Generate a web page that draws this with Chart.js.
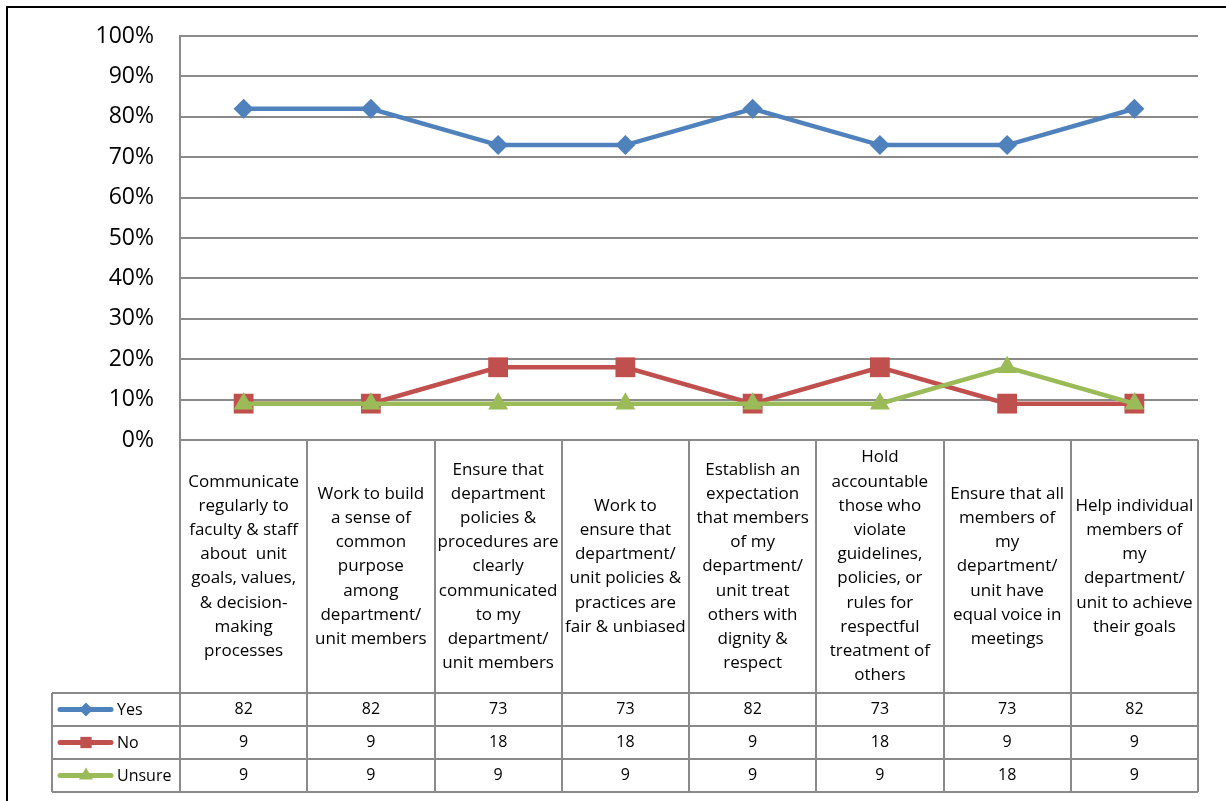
<!DOCTYPE html>
<html>
<head>
<meta charset="utf-8">
<script src="https://cdn.jsdelivr.net/npm/chart.js@4.4.0/dist/chart.umd.min.js"></script>
<style>
  html, body { margin: 0; padding: 0; background: #fff; }
  #chart { display: block; }
</style>
</head>
<body>
<canvas id="chart" width="1226" height="801"></canvas>
<script>
// ── data ─────────────────────────────────────────────────────────────
const categories = [
  ['Communicate', 'regularly to', 'faculty & staff', 'about  unit', 'goals, values,', '& decision-', 'making', 'processes'],
  ['Work to build', 'a sense of', 'common', 'purpose', 'among', 'department/', 'unit members'],
  ['Ensure that', 'department', 'policies &', 'procedures are', 'clearly', 'communicated', 'to my', 'department/', 'unit members'],
  ['Work to', 'ensure that', 'department/', 'unit policies &', 'practices are', 'fair & unbiased'],
  ['Establish an', 'expectation', 'that members', 'of my', 'department/', 'unit treat', 'others with', 'dignity &', 'respect'],
  ['Hold', 'accountable', 'those who', 'violate', 'guidelines,', 'policies, or', 'rules for', 'respectful', 'treatment of', 'others'],
  ['Ensure that all', 'members of', 'my', 'department/', 'unit have', 'equal voice in', 'meetings'],
  ['Help individual', 'members of', 'my', 'department/', 'unit to achieve', 'their goals'],
];
const seriesNames  = ['Yes', 'No', 'Unsure'];
const yesValues    = [82, 82, 73, 73, 82, 73, 73, 82];
const noValues     = [9, 9, 18, 18, 9, 18, 9, 9];
const unsureValues = [9, 9, 9, 9, 9, 9, 18, 9];
const percentTicks = [0, 10, 20, 30, 40, 50, 60, 70, 80, 90, 100];

// ── styles ───────────────────────────────────────────────────────────
const BLUE  = '#4F81BD';
const RED   = '#C0504D';
const GREEN = '#9BBB59';
const GRID  = '#8a8a8a';
const FONT  = "'Open Sans', sans-serif";

const PLOT_TOP    = 36;
const LABEL_ROW_H = 253;   // height of the category text row under the plot
const VALUE_ROW_H = 33;    // height of each series row in the table
const TABLE_LEFT  = 52;
const LINE_H      = 24.2;

const markers = [
  { pointStyle: 'rectRot',  radius: 10,   keyRadius: 7 },
  { pointStyle: 'rect',     radius: 14,   keyRadius: 8 },
  { pointStyle: 'triangle', radius: 11.5, keyRadius: 8 },
];
const colors = [BLUE, RED, GREEN];
const values = [yesValues, noValues, unsureValues];

// Draws the category row, the data table and the legend keys under the plot
const dataTable = {
  id: 'dataTable',
  beforeDraw(chart) {
    const { ctx, width, height } = chart;
    ctx.save();
    ctx.strokeStyle = '#000';
    ctx.lineWidth = 2;
    ctx.beginPath();
    ctx.moveTo(7, height);
    ctx.lineTo(7, 7);
    ctx.lineTo(width, 7);
    ctx.stroke();
    ctx.restore();
  },
  afterDraw(chart) {
    const { ctx, chartArea: area, scales: { x } } = chart;
    const step = x.getPixelForValue(1) - x.getPixelForValue(0);
    const edges = categories.map((_, i) => x.getPixelForValue(i) - step / 2);
    edges.push(x.getPixelForValue(categories.length - 1) + step / 2);

    const top = area.bottom;
    const rowsTop = top + LABEL_ROW_H;
    const bottom = rowsTop + VALUE_ROW_H * seriesNames.length;

    ctx.save();
    ctx.strokeStyle = GRID;
    ctx.lineWidth = 2;
    ctx.beginPath();
    // column separators
    edges.forEach(ex => {
      ctx.moveTo(Math.round(ex), top);
      ctx.lineTo(Math.round(ex), bottom);
    });
    // legend column left edge
    ctx.moveTo(TABLE_LEFT, rowsTop);
    ctx.lineTo(TABLE_LEFT, bottom);
    // row lines
    for (let r = 0; r <= seriesNames.length; r++) {
      const ry = rowsTop + r * VALUE_ROW_H;
      ctx.moveTo(TABLE_LEFT, ry);
      ctx.lineTo(Math.round(edges[edges.length - 1]), ry);
    }
    ctx.stroke();

    ctx.fillStyle = '#000';
    ctx.textAlign = 'center';
    ctx.textBaseline = 'middle';

    // category labels, centred in their cells
    ctx.font = `17px ${FONT}`;
    const midY = top + LABEL_ROW_H / 2;
    categories.forEach((lines, i) => {
      const cx = x.getPixelForValue(i);
      const y0 = midY - (lines.length - 1) * LINE_H / 2;
      lines.forEach((line, j) => ctx.fillText(line, cx, y0 + j * LINE_H));
    });

    // value rows
    ctx.font = `16px ${FONT}`;
    values.forEach((vals, r) => {
      const ry = rowsTop + r * VALUE_ROW_H + VALUE_ROW_H / 2;
      vals.forEach((v, i) => ctx.fillText(String(v), x.getPixelForValue(i), ry));

      // legend key: line, marker, name
      ctx.strokeStyle = colors[r];
      ctx.lineWidth = 5;
      ctx.lineCap = 'round';
      ctx.beginPath();
      ctx.moveTo(60, ry);
      ctx.lineTo(111, ry);
      ctx.stroke();
      ctx.fillStyle = colors[r];
      Chart.helpers.drawPoint(ctx, {
        pointStyle: markers[r].pointStyle,
        radius: markers[r].keyRadius,
        rotation: 0,
        borderWidth: 0,
      }, 86, ry);
      ctx.fillStyle = '#000';
      ctx.textAlign = 'left';
      ctx.fillText(seriesNames[r], 117, ry + 1);
      ctx.textAlign = 'center';
    });
    ctx.restore();
  },
};

const chart = new Chart(document.getElementById('chart'), {
  type: 'line',
  data: {
    labels: categories.map(c => c.join(' ')),
    datasets: seriesNames.map((name, i) => ({
      label: name,
      data: values[i],
      borderColor: colors[i],
      backgroundColor: colors[i],
      borderWidth: 4.5,
      pointStyle: markers[i].pointStyle,
      pointRadius: markers[i].radius,
      pointHoverRadius: markers[i].radius,
      pointBorderWidth: 0,
      tension: 0,
      order: 2 - i,
    })),
  },
  options: {
    responsive: false,
    animation: false,
    layout: { padding: { left: 0, top: PLOT_TOP, right: 28, bottom: 361 } },
    plugins: {
      legend: { display: false },
      tooltip: { enabled: false },
    },
    scales: {
      x: {
        display: false,
        offset: true,
      },
      y: {
        min: 0,
        max: 100,
        afterFit(scale) {
          scale.width = 180;
          // keep the tick padding from pushing the plot down
          scale.paddingTop = 0;
          scale.paddingBottom = 0;
        },
        afterBuildTicks(scale) { scale.ticks = percentTicks.map(v => ({ value: v })); },
        ticks: {
          padding: 26,
          color: '#000',
          font: { family: FONT, size: 23 },
          callback: v => v + '%',
        },
        grid: { color: GRID, lineWidth: 2, drawTicks: false },
        border: { display: true, color: GRID, width: 2 },
      },
    },
  },
  plugins: [dataTable],
});
</script>
</body>
</html>
